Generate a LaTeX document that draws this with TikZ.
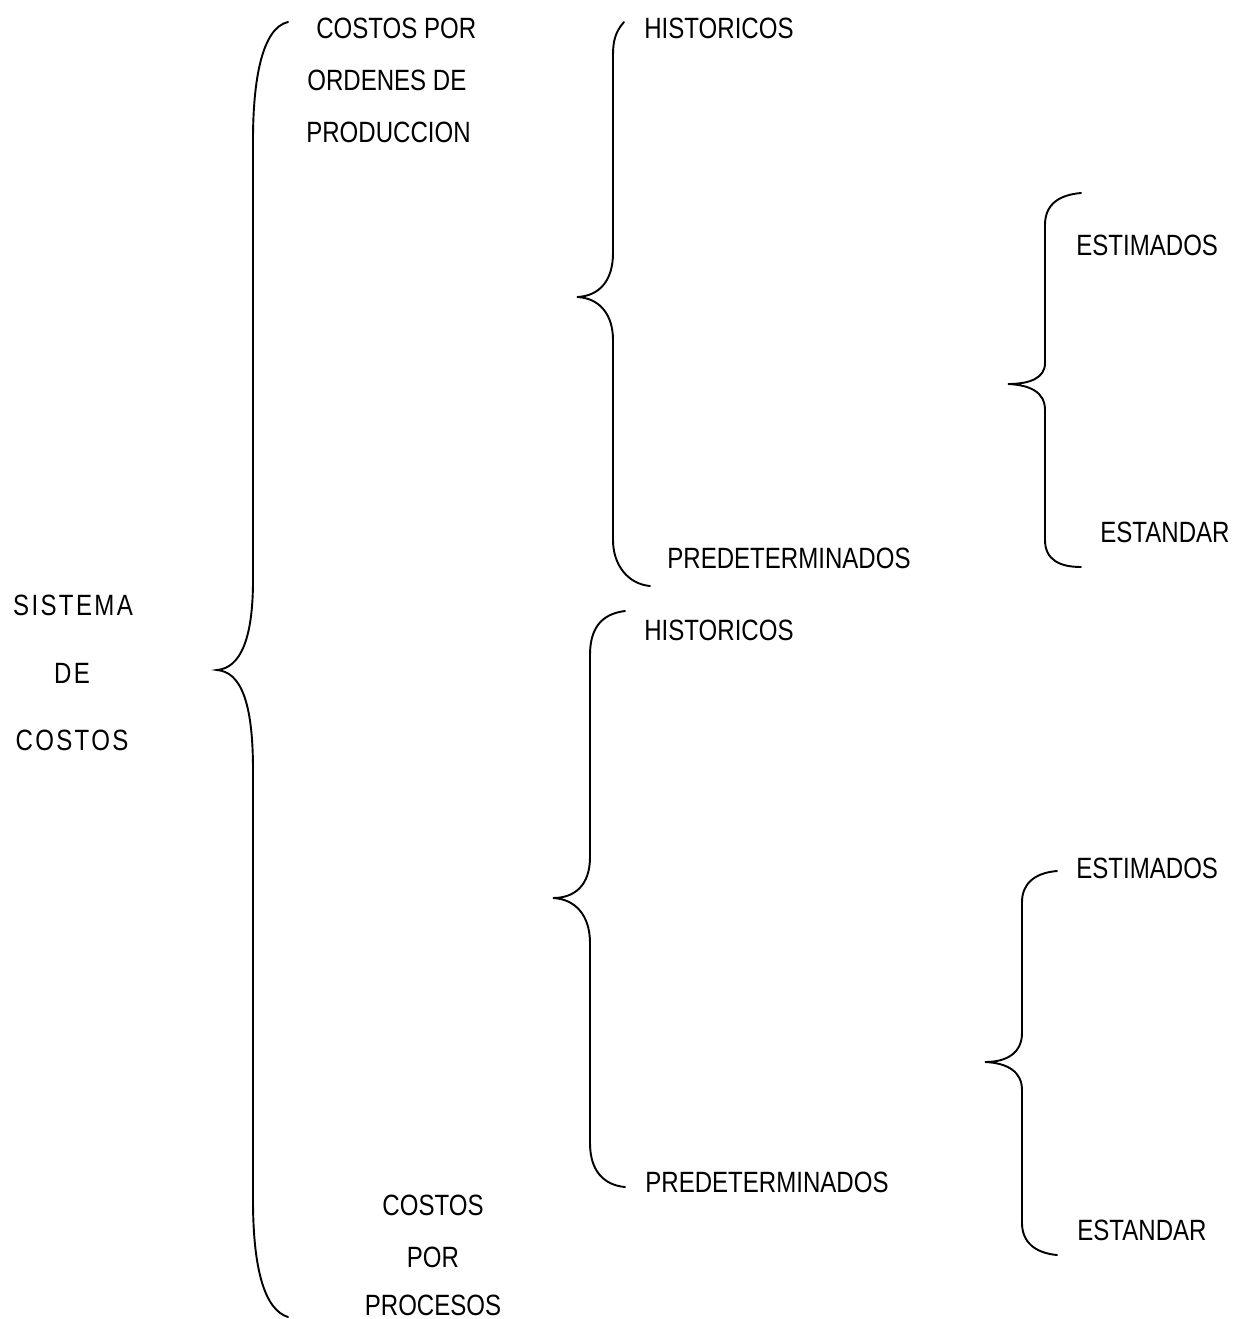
\documentclass[tikz,border=0pt]{standalone}
\usepackage{fontspec}
\setmainfont[FakeStretch=0.82]{Liberation Sans}
\newfontfamily\spacedfont[FakeStretch=0.82,LetterSpace=8]{Liberation Sans}

\tikzset{
  lbl/.style={inner sep=0pt, anchor=base west},
  midlbl/.style={inner sep=0pt, anchor=base},
  bracepath/.style={line width=1.15pt, line cap=round}
}

\begin{document}
\begin{tikzpicture}[x=0.6pt, y=-0.6pt, font=\fontsize{17.6pt}{21pt}\selectfont]
    \useasboundingbox (0,0) rectangle (1237,1319);

    % Main brace of the system
    \draw[bracepath] (288,22) .. controls (262,28) and (253,80) .. (253,140)
      -- (253,580) .. controls (253,640) and (240,668) .. (217,670)
      .. controls (240,672) and (253,700) .. (253,770)
      -- (253,1200) .. controls (253,1270) and (265,1310) .. (288,1317);

    % Braces of the first branch
    \draw[bracepath] (624,22) .. controls (615,32) and (613,42) .. (613,55)
      -- (613,253) .. controls (613,280) and (600,296) .. (577,297)
      .. controls (600,298) and (613,315) .. (613,340)
      -- (613,540) .. controls (613,565) and (628,584) .. (650,586);
    \draw[bracepath] (1081,193) .. controls (1058,195) and (1045,205) .. (1045,225)
      -- (1045,363) .. controls (1045,378) and (1030,384) .. (1008,384)
      .. controls (1030,385) and (1045,392) .. (1045,410)
      -- (1045,540) .. controls (1045,560) and (1060,567) .. (1081,567);

    % Braces of the second branch
    \draw[bracepath] (625,611) .. controls (600,614) and (590,630) .. (590,655)
      -- (590,857) .. controls (590,885) and (575,898) .. (553,898)
      .. controls (575,899) and (590,915) .. (590,943)
      -- (590,1143) .. controls (590,1170) and (603,1185) .. (625,1187);
    \draw[bracepath] (1057,871) .. controls (1033,873) and (1022,885) .. (1022,902)
      -- (1022,1033) .. controls (1022,1052) and (1008,1062) .. (985,1062)
      .. controls (1008,1063) and (1022,1072) .. (1022,1090)
      -- (1022,1223) .. controls (1022,1242) and (1035,1253) .. (1057,1255);

    % Root label
    \node[midlbl, font=\fontsize{17.6pt}{21pt}\spacedfont] (sisA) at (73,615) {SISTEMA};
    \node[midlbl, font=\fontsize{17.6pt}{21pt}\spacedfont] (sisB) at (72,683) {DE};
    \node[midlbl, font=\fontsize{17.6pt}{21pt}\spacedfont] (sisC) at (72,750) {COSTOS};

    % First branch labels
    \node[lbl] (ordA) at (316,39) {COSTOS POR};
    \node[lbl] (ordB) at (307,91) {ORDENES DE};
    \node[lbl] (ordC) at (306,143) {PRODUCCION};
    \node[lbl] (histA) at (644,39) {HISTORICOS};
    \node[lbl] (predA) at (667,568) {PREDETERMINADOS};
    \node[lbl] (estimA) at (1076,255) {ESTIMADOS};
    \node[lbl] (estanA) at (1100,542) {ESTANDAR};

    % Second branch labels
    \node[midlbl] (procA) at (433,1215) {COSTOS};
    \node[midlbl] (procB) at (433,1267) {POR};
    \node[midlbl] (procC) at (433,1315) {PROCESOS};
    \node[lbl] (histB) at (644,640) {HISTORICOS};
    \node[lbl] (predB) at (645,1192) {PREDETERMINADOS};
    \node[lbl] (estimB) at (1076,878) {ESTIMADOS};
    \node[lbl] (estanB) at (1077,1240) {ESTANDAR};
\end{tikzpicture}
\end{document}
